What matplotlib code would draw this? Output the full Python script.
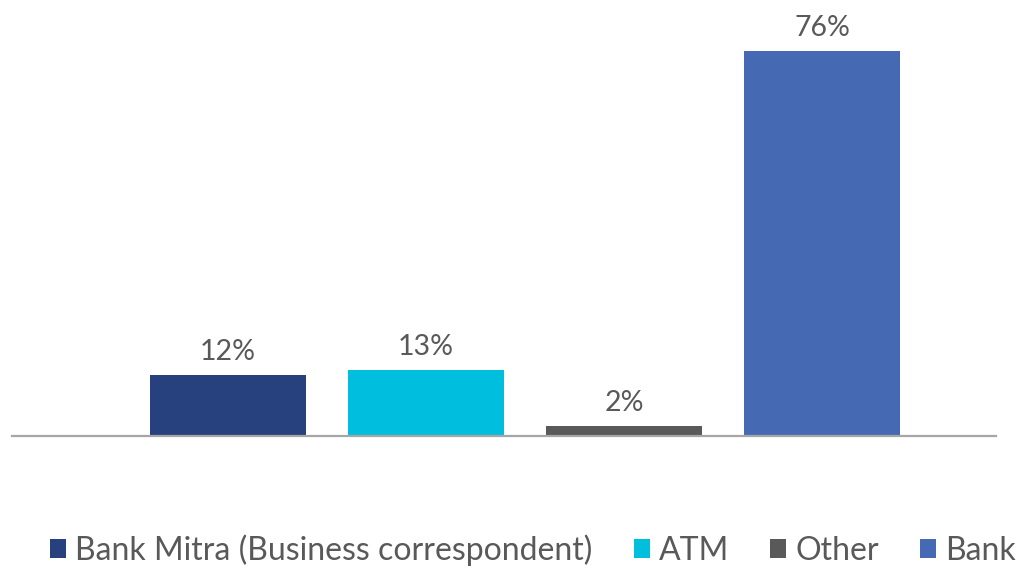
import matplotlib
matplotlib.use("Agg")
import matplotlib.pyplot as plt

# Share of respondents by channel used
channels = ["Bank Mitra (Business correspondent)", "ATM", "Other", "Bank"]
shares = [12, 13, 2, 76]
colors = ["#27417F", "#00BFDE", "#595959", "#456AB3"]
value_labels = ["12%", "13%", "2%", "76%"]

plt.rcParams["font.family"] = ["Lato", "DejaVu Sans"]
text_color = "#595959"

fig = plt.figure(figsize=(10.18, 5.70), dpi=100)
ax = fig.add_axes([12 / 1018, (570 - 436) / 570, 984 / 1018, 436 / 570])

positions = list(range(len(channels)))
for pos, val, col, name, lab in zip(positions, shares, colors, channels, value_labels):
    b = ax.bar(pos, val, width=0.788, color=col, label=name)
    ax.bar_label(b, labels=[lab], padding=7, fontsize=20.5, color=text_color)

ax.set_xlim(-1.091, 3.879)
ax.set_ylim(0, 86)
for side in ["top", "right", "left"]:
    ax.spines[side].set_visible(False)
ax.spines["bottom"].set_color("#A6A6A6")
ax.spines["bottom"].set_linewidth(1.6)
ax.set_xticks([])
ax.set_yticks([])

leg = fig.legend(
    loc="center",
    bbox_to_anchor=(533 / 1018, 1 - 550 / 570),
    ncol=4,
    frameon=False,
    fontsize=23,
    handlelength=0.5,
    handleheight=0.5,
    handletextpad=0.28,
    columnspacing=1.30,
    borderpad=0,
    borderaxespad=0,
)
for t in leg.get_texts():
    t.set_color(text_color)

fig.savefig("out.png", dpi=100)
